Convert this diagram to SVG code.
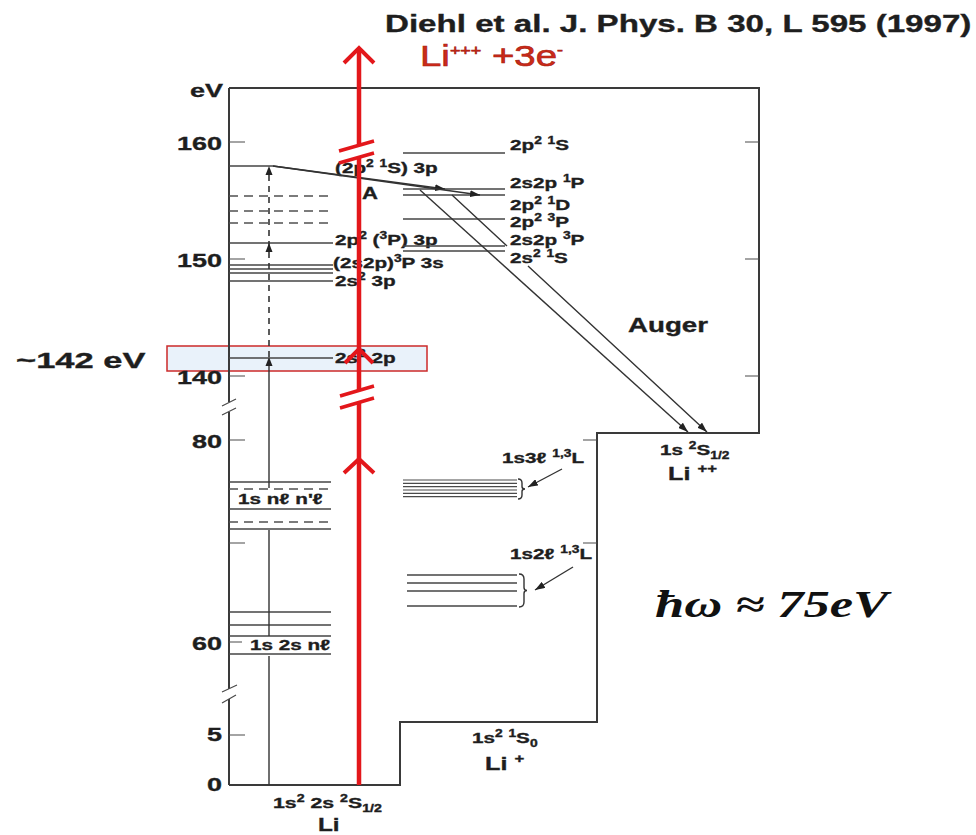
<svg xmlns="http://www.w3.org/2000/svg" width="976" height="835" viewBox="0 0 976 835">
<defs>
<style>
.ax{stroke:#3a3a3a;stroke-width:2;fill:none}
.lv{stroke:#454545;stroke-width:1.6;fill:none}
.th{stroke:#4a4a4a;stroke-width:1.2;fill:none}
.ds{stroke:#505050;stroke-width:1.6;fill:none;stroke-dasharray:9 6}
.tr{stroke:#333;stroke-width:1.4;fill:none}
.trd{stroke:#333;stroke-width:1.6;fill:none;stroke-dasharray:6 5}
.rd{stroke:#e3171b;stroke-width:4.5;fill:none}
.rs{stroke:#e3171b;stroke-width:3.5;fill:none}
.rc{stroke:#e3171b;stroke-width:4;fill:none;stroke-linejoin:miter}
.t{font-family:"Liberation Sans",Arial,Helvetica,sans-serif;font-weight:bold;fill:#1e1e1e;stroke:#1e1e1e;stroke-width:0.35}
.ah{fill:#222}
</style>
<marker id="arr" markerUnits="userSpaceOnUse" markerWidth="10" markerHeight="7" refX="10" refY="3.5" orient="auto"><path d="M0,0 L10,3.5 L0,7 z" fill="#222"/></marker>
</defs>
<rect x="0" y="0" width="976" height="835" fill="#ffffff"/>

<g id="highlight-142eV">
<rect x="167" y="346" width="260" height="25" fill="#e9f2fa" stroke="#cc2a2a" stroke-width="1.5"/>
</g>

<g id="frame">
<path class="ax" d="M229,88 V402 M229,412 V689 M229,699 V785"/>
<path class="ax" d="M229,785 H400 V722 H597 V433 H759 V88 H229"/>
<path class="th" d="M222,406 L236,399 M222,415 L236,408 M222,692 L237,685 M222,703 L236,695"/>
<path class="th" d="M229,142 H245 M229,259 H245 M229,376 H245 M229,440 H245 M229,543 H245 M229,642 H242 M229,735 H245"/>
<path class="th" d="M759,142 H745 M759,259 H745 M759,376 H745 M597,440 H583 M597,543 H583"/>
</g>

<g id="axis-labels">
<text class="t" font-size="19" text-anchor="end" transform="matrix(1.42 0 0 1 223 97)">eV</text>
<text class="t" font-size="19" text-anchor="end" transform="matrix(1.42 0 0 1 222 150)">160</text>
<text class="t" font-size="19" text-anchor="end" transform="matrix(1.42 0 0 1 222 267)">150</text>
<text class="t" font-size="19" text-anchor="end" transform="matrix(1.42 0 0 1 222 384)">140</text>
<text class="t" font-size="19" text-anchor="end" transform="matrix(1.42 0 0 1 222 448)">80</text>
<text class="t" font-size="19" text-anchor="end" transform="matrix(1.42 0 0 1 222 650)">60</text>
<text class="t" font-size="19" text-anchor="end" transform="matrix(1.42 0 0 1 222 741)">5</text>
<text class="t" font-size="19" text-anchor="end" transform="matrix(1.42 0 0 1 222 791)">0</text>
</g>

<g id="levels-Li-upper">
<path class="lv" d="M229,166 H273"/>
<path class="ds" d="M229,196 H333 M229,211 H333 M229,223 H333"/>
<path class="lv" d="M229,243 H333 M229,265 H333 M229,269 H333 M229,273 H333 M229,281 H333 M229,358 H333"/>
<text class="t" font-size="15" transform="matrix(1.38 0 0 1 335 173)">(2p<tspan dy="-6" font-size="10">2</tspan><tspan dy="6"> </tspan><tspan dy="-6" font-size="10">1</tspan><tspan dy="6">S) 3p</tspan></text>
<text class="t" font-size="17" transform="matrix(1.3 0 0 1 362 199)">A</text>
<text class="t" font-size="15" transform="matrix(1.38 0 0 1 335 245)">2p<tspan dy="-6" font-size="10">2</tspan><tspan dy="6"> (</tspan><tspan dy="-6" font-size="10">3</tspan><tspan dy="6">P) 3p</tspan></text>
<text class="t" font-size="15" transform="matrix(1.38 0 0 1 333 268)">(2s2p)<tspan dy="-6" font-size="10">3</tspan><tspan dy="6">P 3s</tspan></text>
<text class="t" font-size="15" transform="matrix(1.38 0 0 1 335 286)">2s<tspan dy="-6" font-size="10">2</tspan><tspan dy="6"> 3p</tspan></text>
<text class="t" font-size="15" transform="matrix(1.38 0 0 1 335 363)">2s<tspan dy="-6" font-size="10">2</tspan><tspan dy="6"> 2p</tspan></text>
</g>

<g id="levels-Li-lower">
<path class="lv" d="M229,482 H331 M229,509 H331 M229,529 H331"/>
<path class="ds" d="M229,489 H331 M229,522 H331"/>
<path class="lv" d="M229,612 H331 M229,625 H331 M229,636 H331 M229,654 H331"/>
<text class="t" font-size="15" transform="matrix(1.38 0 0 1 238 504)">1s nℓ n'ℓ</text>
<text class="t" font-size="15" transform="matrix(1.38 0 0 1 250 650)">1s 2s nℓ</text>
</g>

<g id="levels-Liplus-upper">
<path class="lv" d="M403,153 H505 M403,189 H505 M403,195 H505 M403,219 H505 M403,246 H505 M403,251 H505"/>
<text class="t" font-size="15" transform="matrix(1.38 0 0 1 510 150)">2p<tspan dy="-6" font-size="10">2</tspan><tspan dy="6"> </tspan><tspan dy="-6" font-size="10">1</tspan><tspan dy="6">S</tspan></text>
<text class="t" font-size="15" transform="matrix(1.38 0 0 1 510 188)">2s2p <tspan dy="-6" font-size="10">1</tspan><tspan dy="6">P</tspan></text>
<text class="t" font-size="15" transform="matrix(1.38 0 0 1 510 210)">2p<tspan dy="-6" font-size="10">2</tspan><tspan dy="6"> </tspan><tspan dy="-6" font-size="10">1</tspan><tspan dy="6">D</tspan></text>
<text class="t" font-size="15" transform="matrix(1.38 0 0 1 510 227)">2p<tspan dy="-6" font-size="10">2</tspan><tspan dy="6"> </tspan><tspan dy="-6" font-size="10">3</tspan><tspan dy="6">P</tspan></text>
<text class="t" font-size="15" transform="matrix(1.38 0 0 1 510 245)">2s2p <tspan dy="-6" font-size="10">3</tspan><tspan dy="6">P</tspan></text>
<text class="t" font-size="15" transform="matrix(1.38 0 0 1 510 263)">2s<tspan dy="-6" font-size="10">2</tspan><tspan dy="6"> </tspan><tspan dy="-6" font-size="10">1</tspan><tspan dy="6">S</tspan></text>
</g>

<g id="levels-Liplus-lower">
<path class="th" d="M403,480 H517 M403,483.3 H517 M403,486.7 H517 M403,490 H517 M403,493.3 H517 M403,496.7 H517"/>
<path class="tr" d="M518,479 q4,0 4,4 v3.5 q0,2.5 3,2.5 q-3,0 -3,2.5 v3.5 q0,4 -4,4"/>
<text class="t" font-size="15" transform="matrix(1.38 0 0 1 502 463)">1s3ℓ <tspan dy="-6" font-size="10">1,3</tspan><tspan dy="6">L</tspan></text>
<path class="lv" d="M407,575 H517 M407,583 H517 M407,591 H517 M407,606 H517"/>
<path class="tr" d="M519,574 q5,0 5,5 v8.5 q0,3 3,3 q-3,0 -3,3 v8.5 q0,5 -5,5"/>
<text class="t" font-size="15" transform="matrix(1.38 0 0 1 510 559)">1s2ℓ <tspan dy="-6" font-size="10">1,3</tspan><tspan dy="6">L</tspan></text>
</g>

<g id="state-labels">
<text class="t" font-size="15" transform="matrix(1.42 0 0 1 273 808)">1s<tspan dy="-6" font-size="10">2</tspan><tspan dy="6"> 2s </tspan><tspan dy="-6" font-size="10">2</tspan><tspan dy="6">S</tspan><tspan dy="4" font-size="10">1/2</tspan></text>
<text class="t" font-size="18" transform="matrix(1.35 0 0 1 318 831)">Li</text>
<text class="t" font-size="15" transform="matrix(1.38 0 0 1 472 743)">1s<tspan dy="-6" font-size="10">2</tspan><tspan dy="6"> </tspan><tspan dy="-6" font-size="10">1</tspan><tspan dy="6">S</tspan><tspan dy="4" font-size="10">0</tspan></text>
<text class="t" font-size="18" transform="matrix(1.4 0 0 1 485 770)">Li <tspan dy="-7" font-size="12">+</tspan></text>
<text class="t" font-size="15" transform="matrix(1.38 0 0 1 660 455)">1s <tspan dy="-6" font-size="10">2</tspan><tspan dy="6">S</tspan><tspan dy="4" font-size="10">1/2</tspan></text>
<text class="t" font-size="18" transform="matrix(1.4 0 0 1 668 480)">Li <tspan dy="-7" font-size="12">++</tspan></text>
<text class="t" font-size="21" transform="matrix(1.32 0 0 1 628 332)">Auger</text>
</g>

<g id="connectors">
<path class="tr" d="M269,785 V656 M269,636 V530 M269,488 V362"/>
<polygon class="ah" points="269,357 265.5,366 272.5,366"/>
<path class="trd" d="M269,357 V170"/>
<polygon class="ah" points="269,243 265.5,252 272.5,252"/>
<polygon class="ah" points="269,166 265.5,175 272.5,175"/>
<path class="tr" d="M273,166 L445,189" marker-end="url(#arr)"/>
<path class="tr" d="M273,166 L480,195" marker-end="url(#arr)"/>
<path class="tr" d="M420,190 L688,432" marker-end="url(#arr)"/>
<path class="tr" d="M452,195 L507,246 M528,266 L707,432" marker-end="url(#arr)"/>
<path class="tr" d="M562,469 L528,487" marker-end="url(#arr)"/>
<path class="tr" d="M573,567 L535,590" marker-end="url(#arr)"/>
</g>

<g id="photon-arrow">
<path class="rd" d="M359,146 V50 M359,157 V390 M359,402 V785"/>
<path class="rc" d="M344,63 L359,48 L374,63"/>
<path class="rc" d="M345,363 L359,349 L373,363"/>
<path class="rc" d="M344,473 L359,459 L374,473"/>
<path class="rs" d="M339,151 L374,141 M339,163 L374,153 M340,396 L374,386 M340,408 L374,398"/>
</g>

<g id="annotations">
<text class="t" font-size="23" stroke-width="0.6" transform="matrix(1.44 0 0 1 385 32)">Diehl et al. J. Phys. B 30, L 595 (1997)</text>
<text font-family="Liberation Sans,Arial,sans-serif" font-size="30" fill="#cc2a1a" stroke="#a8200f" stroke-width="0.6" transform="matrix(1.28 0 0 1 420 66)">Li<tspan dy="-11" font-size="14">+++</tspan><tspan dy="11"> +3e</tspan><tspan dy="-11" font-size="14">-</tspan></text>
<text class="t" font-size="23" transform="matrix(1.5 0 0 1 16 368)">~142 eV</text>
<text font-family="Liberation Serif,Times New Roman,serif" font-weight="bold" font-style="italic" font-size="37" fill="#111" transform="matrix(1.42 0 0 1 655 617)">ħω ≈ 75eV</text>
</g>
</svg>
